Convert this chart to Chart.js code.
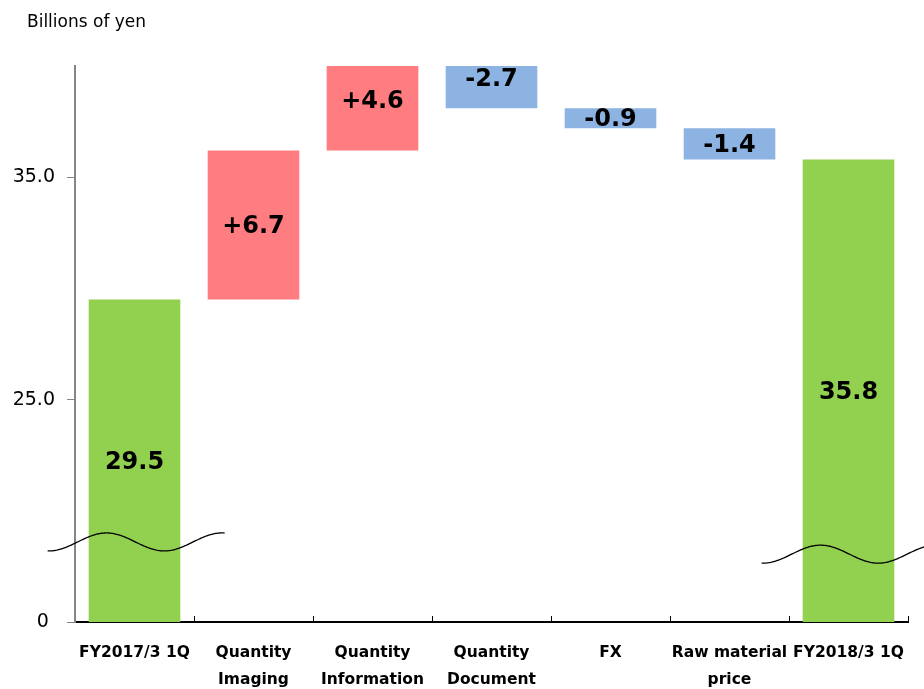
<!DOCTYPE html>
<html>
<head>
<meta charset="utf-8">
<script src="https://cdn.jsdelivr.net/npm/chart.js@4.4.0/dist/chart.umd.min.js"></script>
<style>
  html, body { margin: 0; padding: 0; background: #fff; }
  #wrap { width: 924px; height: 689px; }
</style>
</head>
<body>
<div id="wrap"><canvas id="chart" width="924" height="689"></canvas></div>
<script>
const categories = [
  ["FY2017/3 1Q"],
  ["Quantity", "Imaging"],
  ["Quantity", "Information"],
  ["Quantity", "Document"],
  ["FX"],
  ["Raw material", "price"],
  ["FY2018/3 1Q"]
];
const startTotal = 29.5;
const changes = [6.7, 4.6, -2.7, -0.9, -1.4];
const endTotal = 35.8;
const yTickValues = [0, 25.0, 35.0];
const unitLabel = "Billions of yen";

// broken axis: the "0" tick sits where 15 would be
const axisFloor = 15;
const axisTop = 40;

const GREEN = "#92d050", RED = "#ff7c80", BLUE = "#8db3e2";
const FONT = "'DejaVu Sans', Verdana, sans-serif";

// build the waterfall as floating bars
const ranges = [[0, startTotal]];
const colors = [GREEN];
const valueLabels = [startTotal.toFixed(1)];
let running = startTotal;
changes.forEach(d => {
  const next = Math.round((running + d) * 10) / 10;
  ranges.push([Math.min(running, next), Math.max(running, next)]);
  colors.push(d >= 0 ? RED : BLUE);
  valueLabels.push((d >= 0 ? "+" : "-") + Math.abs(d).toFixed(1));
  running = next;
});
ranges.push([0, endTotal]);
colors.push(GREEN);
valueLabels.push(endTotal.toFixed(1));

const barLabels = {
  id: "barLabels",
  afterDatasetsDraw(chart) {
    const ctx = chart.ctx, area = chart.chartArea;
    ctx.save();
    ctx.font = "bold 24px " + FONT;
    ctx.fillStyle = "#000";
    ctx.textAlign = "center";
    ctx.textBaseline = "middle";
    chart.getDatasetMeta(0).data.forEach((bar, i) => {
      const bottom = Math.min(bar.base, area.bottom);
      ctx.fillText(valueLabels[i], bar.x, (bar.y + bottom) / 2 + 2);
    });
    ctx.restore();
  }
};

// wavy "axis break" marks across the two total bars
const breakMarks = {
  id: "breakMarks",
  afterDraw(chart) {
    const ctx = chart.ctx, xs = chart.scales.x, ys = chart.scales.y;
    const step = xs.getPixelForTick(1) - xs.getPixelForTick(0);
    [[0, 18.6], [6, 18.05]].forEach(([i, v]) => {
      const cx = xs.getPixelForTick(i), cy = ys.getPixelForValue(v);
      const period = step * 0.97, amp = 9;
      const peak = cx - step * 0.235;
      ctx.save();
      ctx.beginPath();
      for (let px = cx - step * 0.73; px <= cx + step * 0.76; px += 1) {
        const py = cy - amp * Math.cos(2 * Math.PI * (px - peak) / period);
        if (px === cx - step * 0.73) ctx.moveTo(px, py); else ctx.lineTo(px, py);
      }
      ctx.strokeStyle = "#000";
      ctx.lineWidth = 1.3;
      ctx.stroke();
      ctx.restore();
    });
  }
};

const unitTitle = {
  id: "unitTitle",
  afterDraw(chart) {
    const ctx = chart.ctx;
    ctx.save();
    ctx.font = "17px " + FONT;
    ctx.fillStyle = "#000";
    ctx.textBaseline = "middle";
    ctx.fillText(unitLabel, 27, 23);
    ctx.restore();
  }
};

new Chart(document.getElementById("chart"), {
  type: "bar",
  data: {
    labels: categories,
    datasets: [{
      data: ranges,
      backgroundColor: colors,
      borderWidth: 0,
      barPercentage: 0.77,
      categoryPercentage: 1,
      clip: 0
    }]
  },
  options: {
    responsive: false,
    animation: false,
    layout: { padding: { top: 66, right: 16, left: 0, bottom: 0 } },
    plugins: {
      legend: { display: false },
      tooltip: { enabled: false }
    },
    scales: {
      x: {
        afterFit: s => { s.height = 67; s.paddingLeft = 0; s.paddingRight = 0; },
        ticks: {
          font: { family: FONT, size: 15.5, weight: "bold", lineHeight: 1.7 },
          color: "#000",
          padding: 24,
          maxRotation: 0,
          autoSkip: false
        },
        grid: { drawOnChartArea: false, color: "#000", tickLength: -6, offset: true },
        border: { color: "#000", width: 2 }
      },
      y: {
        min: axisFloor,
        max: axisTop,
        afterFit: s => { s.width = 75; s.paddingTop = 0; s.paddingBottom = 0; },
        afterBuildTicks: s => {
          s.ticks = yTickValues.map(v => ({ value: Math.max(v, axisFloor) }));
        },
        ticks: {
          callback: (v, i) => i === 0 ? "0 " : yTickValues[i].toFixed(1),
          font: { family: FONT, size: 19 },
          color: "#000",
          padding: 12
        },
        grid: { drawOnChartArea: false, color: "#868686", tickLength: 8 },
        border: { color: "#868686", width: 2 }
      }
    }
  },
  plugins: [barLabels, breakMarks, unitTitle]
});
</script>
</body>
</html>
